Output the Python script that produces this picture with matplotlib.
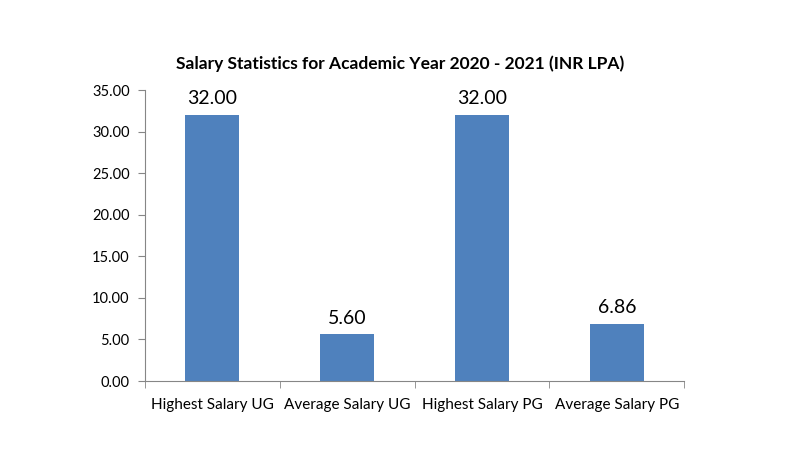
import numpy as np
import matplotlib.pyplot as plt

categories = ["Highest Salary UG", "Average Salary UG", "Highest Salary PG", "Average Salary PG"]
salaries = [32.00, 5.60, 32.00, 6.86]
y_ticks = [0, 5, 10, 15, 20, 25, 30, 35]

plt.rcParams["font.family"] = ["Lato", "DejaVu Sans"]

fig = plt.figure(figsize=(8, 4.5), dpi=100)
ax = fig.add_axes([0.18125, 0.1533, 0.674, 0.6467])

x = np.arange(len(categories))
bars = ax.bar(x, salaries, width=0.4, color="#4F81BD")
for b, v in zip(bars, salaries):
    ax.text(b.get_x() + b.get_width() / 2, v + 0.9, f"{v:.2f}",
            ha="center", va="bottom", fontsize=14, color="black")

ax.set_xlim(-0.5, len(categories) - 0.5)
ax.set_ylim(0, 35)
ax.set_yticks(y_ticks)
ax.set_yticklabels([f"{t:.2f}" for t in y_ticks], fontsize=10.5)
ax.set_xticks(x)
ax.set_xticklabels(categories, fontsize=11)
ax.set_xticks(np.arange(-0.5, len(categories)), minor=True)
ax.tick_params(axis="x", which="major", length=0, pad=12)
ax.tick_params(axis="x", which="minor", length=5, color="#868686", direction="out")
ax.tick_params(axis="y", length=5, color="#868686", pad=6)

for s in ["top", "right"]:
    ax.spines[s].set_visible(False)
for s in ["left", "bottom"]:
    ax.spines[s].set_color("#868686")

fig.text(0.5, 0.858, "Salary Statistics for Academic Year 2020 - 2021 (INR LPA)",
         ha="center", va="center", fontsize=12.5, fontweight="bold")

fig.savefig("out.png", dpi=100)
